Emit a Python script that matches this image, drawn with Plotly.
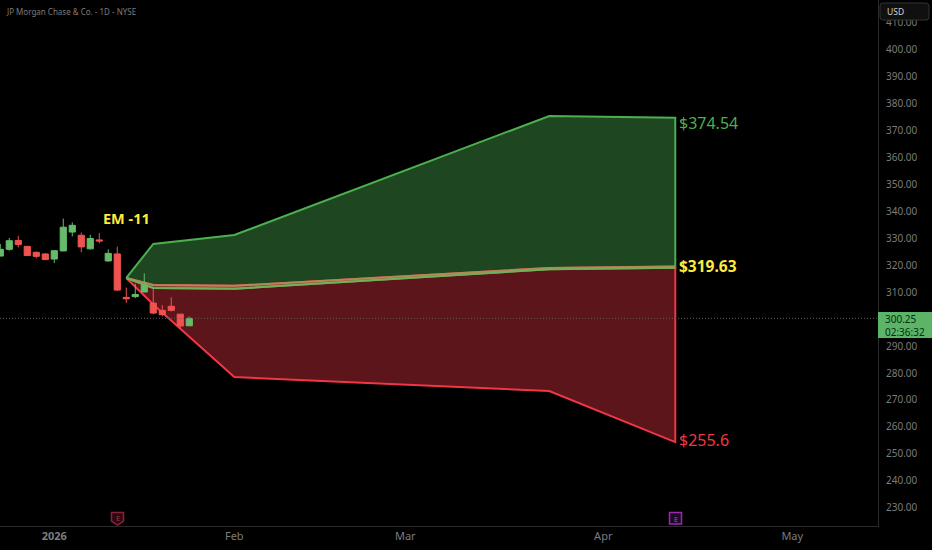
import pandas as pd
import plotly.graph_objects as go

# Trading calendar (one category per session, so weekends/holidays take no room)
holidays = ["2025-12-25", "2026-01-01", "2026-01-19", "2026-02-16", "2026-04-03", "2026-05-25"]
sessions = [d.strftime("%Y-%m-%d") for d in pd.bdate_range("2025-12-23", "2026-06-05")
            if d.strftime("%Y-%m-%d") not in holidays]

candle_dates = ["2025-12-23", "2025-12-24", "2025-12-26", "2025-12-29", "2025-12-30", "2025-12-31",
                "2026-01-02", "2026-01-05", "2026-01-06", "2026-01-07", "2026-01-08", "2026-01-09",
                "2026-01-12", "2026-01-13", "2026-01-14", "2026-01-15", "2026-01-16", "2026-01-20",
                "2026-01-21", "2026-01-22", "2026-01-23", "2026-01-26"]
opens = [323.3, 325.8, 329.1, 326.9, 324.7, 324.1, 322.2, 325.2, 332.2, 331.0, 326.0, 329.3,
         321.5, 324.1, 308.0, 308.3, 310.0, 305.9, 303.2, 304.7, 301.8, 297.5]
highs = [327.8, 330.0, 330.8, 326.9, 325.0, 324.3, 325.5, 337.2, 335.8, 332.0, 331.2, 331.8,
         325.8, 326.8, 311.6, 313.0, 316.9, 311.1, 305.1, 308.0, 301.8, 300.9]
lows = [323.3, 325.3, 326.5, 323.5, 322.5, 321.8, 320.7, 325.2, 330.6, 324.7, 325.7, 328.0,
        321.2, 310.5, 306.0, 307.7, 310.0, 301.8, 301.0, 302.8, 296.4, 297.4]
closes = [325.8, 329.0, 327.6, 323.5, 323.2, 322.0, 325.3, 334.0, 334.7, 326.7, 329.8, 328.9,
          324.3, 310.7, 307.5, 309.1, 312.6, 302.2, 301.6, 303.2, 297.4, 300.25]

# Expected-move cone
cone_dates = ["2026-01-14", "2026-01-20", "2026-02-02", "2026-03-24", "2026-04-14"]
upper_values = [315.2, 327.8, 331.1, 375.2, 374.5]
mid_low_values = [315.2, 311.5, 311.2, 318.4, 319.0]
mid_high_values = [315.2, 312.6, 312.3, 318.9, 319.4]
lower_values = [315.2, 305.4, 278.5, 273.3, 254.4]

last_price = 300.25
tick_prices = [230, 240, 250, 260, 270, 280, 290, 310, 320, 330, 340, 350, 360, 370, 380, 390, 400, 410]
month_dates = ["2026-01-02", "2026-02-02", "2026-03-02", "2026-04-01", "2026-05-01"]
month_labels = ["<b>2026</b>", "Feb", "Mar", "Apr", "May"]
earnings_dates = ["2026-01-13", "2026-04-14"]

PLOT_H = 526
PLOT_W = 878
X_RANGE = [-0.03, PLOT_W / 9 - 0.03]
Y_RANGE = [223.33, 418.15]
GREEN, RED, YELLOW = "#4caf50", "#f23645", "#ffeb3b"
MUTED = "#7c7c7c"


def py(pixel):
    return 1 - pixel / PLOT_H


def px(pixel):
    return pixel / PLOT_W


fig = go.Figure()
fig.add_trace(go.Scatter(
    x=cone_dates + cone_dates[::-1], y=upper_values + mid_low_values[::-1], mode="lines",
    fill="toself", fillcolor="rgba(76,175,80,0.40)", line=dict(color=GREEN, width=2),
    hoverinfo="skip", showlegend=False))
fig.add_trace(go.Scatter(
    x=cone_dates + cone_dates[::-1], y=mid_high_values + lower_values[::-1], mode="lines",
    fill="toself", fillcolor="rgba(242,54,69,0.38)", line=dict(color=RED, width=2),
    hoverinfo="skip", showlegend=False))
fig.add_trace(go.Scatter(
    x=cone_dates, y=mid_high_values, mode="lines",
    line=dict(color="#b08a55", width=2), hoverinfo="skip", showlegend=False))
fig.add_trace(go.Scatter(
    x=cone_dates, y=mid_low_values, mode="lines",
    line=dict(color="#6fb05a", width=2), hoverinfo="skip", showlegend=False))
# On an overlaid axis pair so that the candles are drawn above the cone
fig.add_trace(go.Candlestick(
    x=candle_dates, open=opens, high=highs, low=lows, close=closes, showlegend=False,
    xaxis="x2", yaxis="y2", whiskerwidth=0, line=dict(width=1),
    increasing=dict(line=dict(color="#66bb6a"), fillcolor="#66bb6a"),
    decreasing=dict(line=dict(color="#ef5350"), fillcolor="#ef5350")))

fig.update_layout(
    width=932, height=550, margin=dict(l=0, r=54, t=0, b=24),
    paper_bgcolor="#000000", plot_bgcolor="#000000", showlegend=False, boxgap=0.02,
    font=dict(family="Noto Sans", color=MUTED, size=10.5),
    xaxis=dict(type="category", categoryorder="array", categoryarray=sessions,
               range=X_RANGE, tickmode="array", tickvals=month_dates,
               ticktext=month_labels, showgrid=False, zeroline=False, showline=True,
               linecolor="#2a2a2a", linewidth=1, ticks="",
               tickfont=dict(family="Noto Sans", size=11, color=MUTED)),
    yaxis=dict(side="right", range=Y_RANGE, tickmode="array", tickvals=tick_prices,
               ticktext=[f"{v:.2f}" for v in tick_prices], showgrid=False, zeroline=False,
               showline=True, linecolor="#2a2a2a", linewidth=1, ticks="outside", ticklen=5,
               tickcolor="rgba(0,0,0,0)",
               tickfont=dict(family="Noto Sans", size=10, color=MUTED)),
    xaxis2=dict(type="category", categoryorder="array", categoryarray=sessions, range=X_RANGE,
                overlaying="x", visible=False, rangeslider=dict(visible=False)),
    yaxis2=dict(range=Y_RANGE, overlaying="y", side="right", visible=False),
    shapes=[
        dict(type="line", xref="paper", x0=0, x1=1, yref="y", y0=last_price, y1=last_price,
             line=dict(color="#5f5f5f", width=1, dash="1px,2px"), layer="above"),
        dict(type="rect", xref="paper", x0=px(878), x1=px(932), yref="paper", y0=py(338), y1=py(312),
             fillcolor="#5cb567", line=dict(width=0)),
        dict(type="path", xref="paper", yref="paper",
             path=(f"M {px(883)} {py(3)} L {px(926)} {py(3)} Q {px(929)} {py(3)} {px(929)} {py(6)} "
                   f"L {px(929)} {py(17)} Q {px(929)} {py(20)} {px(926)} {py(20)} L {px(883)} {py(20)} "
                   f"Q {px(880)} {py(20)} {px(880)} {py(17)} L {px(880)} {py(6)} Q {px(880)} {py(3)} {px(883)} {py(3)} Z"),
             fillcolor="#101010", line=dict(color="#333333", width=1)),
        dict(type="path", xref="paper", yref="paper",
             path=(f"M {px(111.5)} {py(512.5)} L {px(123.5)} {py(512.5)} L {px(123.5)} {py(521)} "
                   f"L {px(117.5)} {py(525)} L {px(111.5)} {py(521)} Z"),
             fillcolor="#2a0a10", line=dict(color="#8a2233", width=1.5)),
        dict(type="rect", xref="paper", yref="paper", x0=px(669.5), x1=px(681.5), y0=py(512.5), y1=py(524),
             fillcolor="#1f0a24", line=dict(color="#9c27b0", width=1.5)),
    ],
    annotations=[
        dict(text="JP Morgan Chase & Co. - 1D - NYSE", xref="paper", yref="paper", x=px(4), y=py(11),
             xanchor="left", yanchor="middle", showarrow=False, font=dict(size=8, color=MUTED)),
        dict(text="<b>EM -11</b>", xref="paper", yref="paper", x=px(126), y=py(218), showarrow=False,
             xanchor="center", yanchor="middle", font=dict(family="Noto Sans", size=14.5, color=YELLOW)),
        dict(text="$374.54", xref="paper", yref="paper", x=px(677), y=py(123), showarrow=False,
             xanchor="left", yanchor="middle", font=dict(family="Noto Sans", size=16, color=GREEN)),
        dict(text="<b>$319.63</b>", xref="paper", yref="paper", x=px(677), y=py(265.5), showarrow=False,
             xanchor="left", yanchor="middle", font=dict(family="Noto Sans", size=15.5, color=YELLOW)),
        dict(text="$255.6", xref="paper", yref="paper", x=px(677), y=py(439.5), showarrow=False,
             xanchor="left", yanchor="middle", font=dict(family="Noto Sans", size=16, color=RED)),
        dict(text="USD", xref="paper", yref="paper", x=px(885), y=py(11), showarrow=False,
             xanchor="left", yanchor="middle", font=dict(size=8.5, color="#d0d0d0")),
        dict(text="300.25<br>02:36:32", xref="paper", yref="paper", x=px(883), y=py(325), showarrow=False,
             xanchor="left", yanchor="middle", align="left", font=dict(size=10, color="#0b2a10")),
        dict(text="E", xref="paper", yref="paper", x=px(117.5), y=py(518), showarrow=False,
             xanchor="center", yanchor="middle", font=dict(size=7.5, color="#b03045")),
        dict(text="E", xref="paper", yref="paper", x=px(675.5), y=py(518.5), showarrow=False,
             xanchor="center", yanchor="middle", font=dict(size=7.5, color="#b040c8")),
    ],
)

fig.write_html("out.html", config=dict(displayModeBar=False),
               post_script="document.body.style.margin='0';document.body.style.background='#000';")
